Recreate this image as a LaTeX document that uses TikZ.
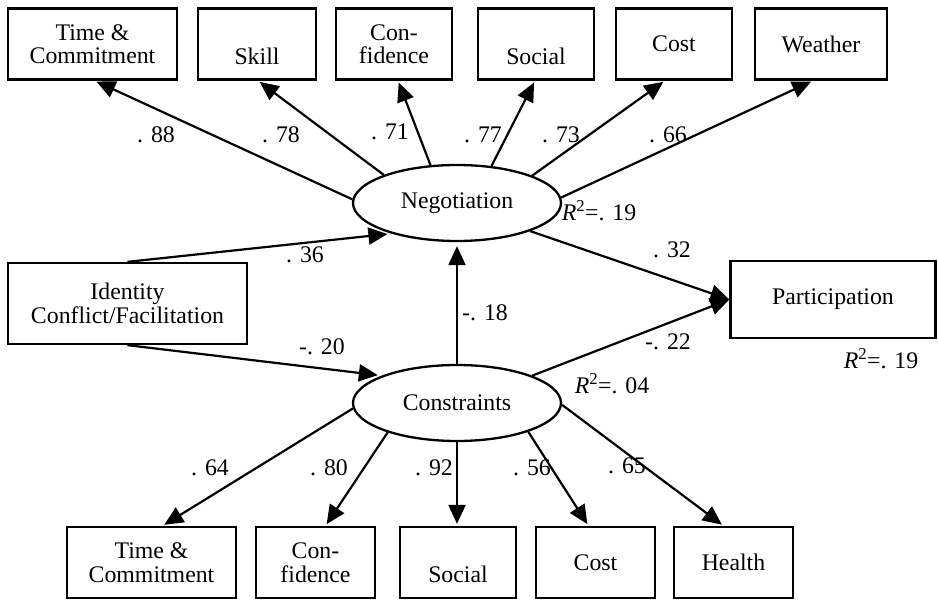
\documentclass[tikz,border=0pt]{standalone}
\usepackage{fontspec}
\setmainfont{Liberation Serif}
\usetikzlibrary{arrows.meta,shapes.geometric}
\begin{document}
\begin{tikzpicture}[x=1pt,y=-1pt,
  every node/.style={font=\fontsize{23.8}{23.5}\selectfont},
  box/.style={draw,line width=2.3pt,rectangle,inner sep=0pt,align=center,minimum height=71pt},
  lat/.style={draw,line width=2.3pt,ellipse,minimum width=208pt,minimum height=76pt,inner sep=0pt},
  arr/.style={line width=2.2pt,-{Triangle[length=19pt,width=17pt]},shorten >=2pt},
  lbl/.style={inner sep=0pt}]
\useasboundingbox (0,0) rectangle (938,602);
% top indicators
\node[box,minimum width=169pt] (tTC) at (92.5,44) {Time \&\\Commitment};
\node[box,minimum width=118pt] (tSK) at (257,44) {\strut\\Skill};
\node[box,minimum width=116pt] (tCF) at (394,44) {Con-\\fidence};
\node[box,minimum width=116pt] (tSO) at (536,44) {\strut\\Social};
\node[box,minimum width=116pt] (tCO) at (674,44) {Cost};
\node[box,minimum width=132pt] (tWE) at (821,44) {Weather};
% latent variables
\node[lat] (neg) at (457,203) {Negotiation};
\node[lat] (cons) at (457,403) {Constraints};
% exogenous and outcome
\node[box,minimum width=239pt,minimum height=81pt] (id) at (127.5,303.5) {Identity\\Conflict/Facilitation};
\node[box,minimum width=205pt,minimum height=77pt] (part) at (833,299.5) {Participation};
% bottom indicators
\node[box,minimum width=169pt] (bTC) at (151.5,562.5) {Time \&\\Commitment};
\node[box,minimum width=119pt] (bCF) at (315.5,562.5) {Con-\\fidence};
\node[box,minimum width=116pt] (bSO) at (458,562.5) {\strut\\Social};
\node[box,minimum width=119pt] (bCO) at (595.5,562.5) {Cost};
\node[box,minimum width=119pt] (bHE) at (733.5,562.5) {Health};
% negotiation loadings
\draw[arr] (neg.178) -- ([xshift=2pt]tTC.south);
\draw[arr] (neg.159) -- ([xshift=1pt]tSK.south);
\draw[arr] (neg.125) -- ([xshift=4pt]tCF.south);
\draw[arr] (neg.47) -- ([xshift=-1pt]tSO.south);
\draw[arr] (neg.20) -- ([xshift=-9pt]tCO.south);
\draw[arr] (neg.3) -- ([xshift=-8pt]tWE.south);
% constraints loadings
\draw[arr] (cons.183) -- ([xshift=11pt]bTC.north);
\draw[arr] (cons.203) -- ([xshift=10pt]bCF.north);
\draw[arr] (cons.south) -- (cons.south |- bSO.north);
\draw[arr] (cons.338) -- ([xshift=-7pt]bCO.north);
\draw[arr] (cons.359) -- ([xshift=-10pt]bHE.north);
% structural paths
\draw[arr,shorten >=4pt] (id.north) -- (neg.205);
\draw[arr,shorten >=4pt] (id.south) -- (cons.160);
\draw[arr,shorten >=4pt] (cons.north) -- (neg.south);
\draw[arr,shorten >=0pt] (neg.339) -- (part.west);
\draw[arr,shorten >=0pt] (cons.20) -- (part.west);
% labels
\node[lbl] (l88) at (156,135) {. 88};
\node[lbl] (l78) at (281,135) {. 78};
\node[lbl] (l71) at (390,132) {. 71};
\node[lbl] (l77) at (483,135) {. 77};
\node[lbl] (l73) at (561,135) {. 73};
\node[lbl] (l66) at (668,135) {. 66};
\node[lbl] (l36) at (305,255) {. 36};
\node[lbl] (l20) at (322,347) {-. 20};
\node[lbl] (l18) at (485,313) {-. 18};
\node[lbl] (l32) at (672,250) {. 32};
\node[lbl] (l22) at (668,342) {-. 22};
\node[lbl] (rneg) at (599,211) {\textit{R}\textsuperscript{2}=. 19};
\node[lbl] (rpart) at (881,359) {\textit{R}\textsuperscript{2}=. 19};
\node[lbl] (rcons) at (612,384) {\textit{R}\textsuperscript{2}=. 04};
\node[lbl] (l64) at (210,468) {. 64};
\node[lbl] (l80) at (329,468) {. 80};
\node[lbl] (l92) at (434,468) {. 92};
\node[lbl] (l56) at (532,468) {. 56};
\node[lbl] (l65) at (627,466) {. 65};
\end{tikzpicture}
\end{document}
